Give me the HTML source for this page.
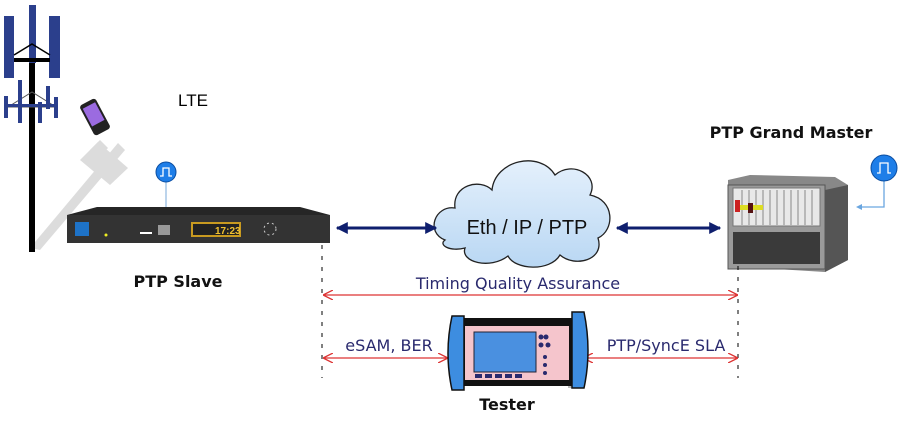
<!DOCTYPE html>
<html><head><meta charset="utf-8"><style>
html,body{margin:0;padding:0;background:#fff;}
svg{display:block;}
text{font-family:"Liberation Sans","DejaVu Sans",sans-serif;}
.v{font-family:"DejaVu Sans","Liberation Sans",sans-serif;}
</style></head><body>
<svg width="918" height="422" viewBox="0 0 918 422" xmlns="http://www.w3.org/2000/svg">
<defs>
<marker id="nv" viewBox="0 0 10 10" refX="9" refY="5" markerWidth="4" markerHeight="4" orient="auto-start-reverse"><path d="M0,0 L10,5 L0,10 z" fill="#0f1f6e"/></marker>
<marker id="rd" viewBox="0 0 10 10" refX="9" refY="5" markerWidth="10" markerHeight="10" markerUnits="userSpaceOnUse" orient="auto-start-reverse"><path d="M0,0 L10,5 L0,10" fill="none" stroke="#d33" stroke-width="1.3"/></marker>
<linearGradient id="cl" x1="0" y1="0" x2="0" y2="1"><stop offset="0" stop-color="#e4f0fc"/><stop offset="1" stop-color="#b9d7f3"/></linearGradient>
</defs>
<g fill="#dcdcdc" stroke="none">
<polygon points="30,248 40,250 125,150 118,143"/>
<polygon points="80,160 98,142 128,168 110,185"/>
<polygon points="90,150 100,140 108,148 98,158"/>
</g>
<rect x="29" y="55" width="6" height="197" fill="#000"/>
<rect x="4" y="16" width="10" height="62" fill="#2b3f8c"/>
<rect x="29" y="5" width="7" height="58" fill="#2b3f8c"/>
<rect x="49" y="16" width="11" height="62" fill="#2b3f8c"/>
<path d="M14,55 L32,44 L50,55" fill="none" stroke="#000" stroke-width="1.5"/>
<rect x="14" y="58" width="36" height="4" fill="#000"/>
<path d="M8,107 L32,92 L56,107 Z" fill="none" stroke="#555" stroke-width="1"/>
<g fill="#2b3f8c">
<rect x="4" y="96" width="4" height="22"/><rect x="18" y="80" width="4" height="43"/>
<rect x="38" y="102" width="4" height="21"/><rect x="46" y="86" width="4" height="23"/>
<rect x="54" y="97" width="4" height="21"/><rect x="4" y="104" width="54" height="3"/>
</g>
<g transform="rotate(-28 95 117)"><rect x="86" y="100" width="18" height="34" rx="3" fill="#222"/><rect x="88" y="104" width="14" height="20" fill="#9b6be0"/></g>
<text x="178" y="106" font-size="17" fill="#000">LTE</text>
<line x1="166" y1="180" x2="166" y2="208" stroke="#7aaad8" stroke-width="1"/>
<circle cx="166" cy="172" r="10" fill="#1e7ee8" stroke="#0b4da0"/>
<path d="M160,176 h3 v-8 h6 v8 h3" fill="none" stroke="#fff" stroke-width="1.3"/>
<polygon points="67,215 97,207 300,207 330,215 330,243 67,243" fill="#262626"/>
<rect x="67" y="215" width="263" height="28" fill="#333"/>
<rect x="75" y="222" width="14" height="14" fill="#1e73c8"/>
<rect x="140" y="232" width="12" height="2" fill="#fff"/>
<rect x="158" y="225" width="12" height="10" fill="#999"/>
<rect x="191" y="222" width="50" height="15" fill="#c89a20"/>
<rect x="193" y="224" width="46" height="11" fill="#222"/>
<text x="215" y="234" font-size="10" fill="#f0c030" font-weight="bold">17:23</text>
<circle cx="270" cy="229" r="6" fill="none" stroke="#ccc" stroke-dasharray="2 3"/>
<circle cx="106" cy="235" r="1.5" fill="#ee2"/>
<text class="v" x="178" y="287" font-size="16" font-weight="bold" text-anchor="middle" fill="#111">PTP Slave</text>
<path d="M445,240 C425,232 435,205 455,208 C452,185 480,178 492,190 C495,160 540,150 555,175 C572,160 600,175 590,195 C615,200 615,230 598,238 C605,260 575,268 560,255 C550,272 515,270 508,256 C490,270 460,262 465,248 C450,252 438,245 445,240 Z" fill="url(#cl)" stroke="#222" stroke-width="1.3"/>
<text x="527" y="234" font-size="20" text-anchor="middle" fill="#111">Eth / IP / PTP</text>
<line x1="337" y1="228" x2="436" y2="228" stroke="#0f1f6e" stroke-width="3" marker-start="url(#nv)" marker-end="url(#nv)"/>
<line x1="617" y1="228" x2="720" y2="228" stroke="#0f1f6e" stroke-width="3" marker-start="url(#nv)" marker-end="url(#nv)"/>
<text class="v" x="791" y="138" font-size="16" font-weight="bold" text-anchor="middle" fill="#111">PTP Grand Master</text>
<polygon points="728,180 750,175 835,177 848,185 848,260 825,272 728,266" fill="#888"/>
<polygon points="825,190 848,185 848,260 825,272" fill="#555"/>
<rect x="728" y="185" width="97" height="84" fill="#9a9a9a" stroke="#555"/>
<rect x="733" y="188" width="87" height="38" fill="#e8e8e8" stroke="#777"/>
<g stroke="#888"><line x1="742" y1="190" x2="742" y2="225"/><line x1="749" y1="190" x2="749" y2="225"/><line x1="756" y1="190" x2="756" y2="225"/><line x1="763" y1="190" x2="763" y2="225"/><line x1="770" y1="190" x2="770" y2="225"/><line x1="777" y1="190" x2="777" y2="225"/><line x1="784" y1="190" x2="784" y2="225"/><line x1="791" y1="190" x2="791" y2="225"/><line x1="798" y1="190" x2="798" y2="225"/><line x1="805" y1="190" x2="805" y2="225"/><line x1="812" y1="190" x2="812" y2="225"/></g>
<rect x="735" y="205" width="28" height="5" fill="#dd2"/><rect x="735" y="200" width="5" height="12" fill="#c22"/><rect x="748" y="203" width="5" height="10" fill="#511"/>
<rect x="733" y="232" width="87" height="32" fill="#3a3a3a"/>
<path d="M884,180 V207 H860" fill="none" stroke="#6aa6e0" stroke-width="1.3"/>
<path d="M856,207 l6,-3 v6 z" fill="#6aa6e0"/>
<circle cx="884" cy="168" r="13" fill="#1e7ee8" stroke="#0b4da0"/>
<path d="M877,173 h3 v-10 h8 v10 h3" fill="none" stroke="#fff" stroke-width="1.3"/>
<line x1="322" y1="245" x2="322" y2="378" stroke="#000" stroke-dasharray="4 7"/>
<line x1="738" y1="266" x2="738" y2="378" stroke="#000" stroke-dasharray="4 7"/>
<text class="v" x="518" y="289" font-size="16" text-anchor="middle" fill="#2a2a6e">Timing Quality Assurance</text>
<line x1="324" y1="295" x2="737" y2="295" stroke="#d33" stroke-width="1.3" marker-start="url(#rd)" marker-end="url(#rd)"/>
<text class="v" x="389" y="351" font-size="16" text-anchor="middle" fill="#2a2a6e">eSAM, BER</text>
<line x1="324" y1="358" x2="447" y2="358" stroke="#d33" stroke-width="1.3" marker-start="url(#rd)" marker-end="url(#rd)"/>
<text class="v" x="666" y="351" font-size="16" text-anchor="middle" fill="#2a2a6e">PTP/SyncE SLA</text>
<line x1="584" y1="358" x2="737" y2="358" stroke="#d33" stroke-width="1.3" marker-start="url(#rd)" marker-end="url(#rd)"/>
<rect x="568" y="350" width="12" height="38" fill="#bbb"/>
<rect x="462" y="318" width="110" height="68" fill="#111"/>
<rect x="465" y="326" width="104" height="54" fill="#f5c5cc"/>
<rect x="474" y="332" width="62" height="40" fill="#4a90e0" stroke="#223"/>
<g fill="#2a2a6e"><circle cx="541" cy="337" r="2.5"/><circle cx="546" cy="337" r="2.5"/><circle cx="541" cy="345" r="2.5"/><circle cx="548" cy="345" r="2.5"/><circle cx="545" cy="357" r="2"/><circle cx="545" cy="365" r="2"/><circle cx="545" cy="373" r="2"/><rect x="475" y="374" width="7" height="4"/><rect x="485" y="374" width="7" height="4"/><rect x="495" y="374" width="7" height="4"/><rect x="505" y="374" width="7" height="4"/><rect x="515" y="374" width="7" height="4"/></g>
<path d="M452,316 h12 v74 h-12 q-8,-37 0,-74 z" fill="#3d8de0" stroke="#111" stroke-width="1.5"/>
<path d="M572,312 h12 q8,39 0,76 h-12 z" fill="#3d8de0" stroke="#111" stroke-width="1.5"/>
<text class="v" x="507" y="410" font-size="16" font-weight="bold" text-anchor="middle" fill="#111">Tester</text>
</svg>
</body></html>
